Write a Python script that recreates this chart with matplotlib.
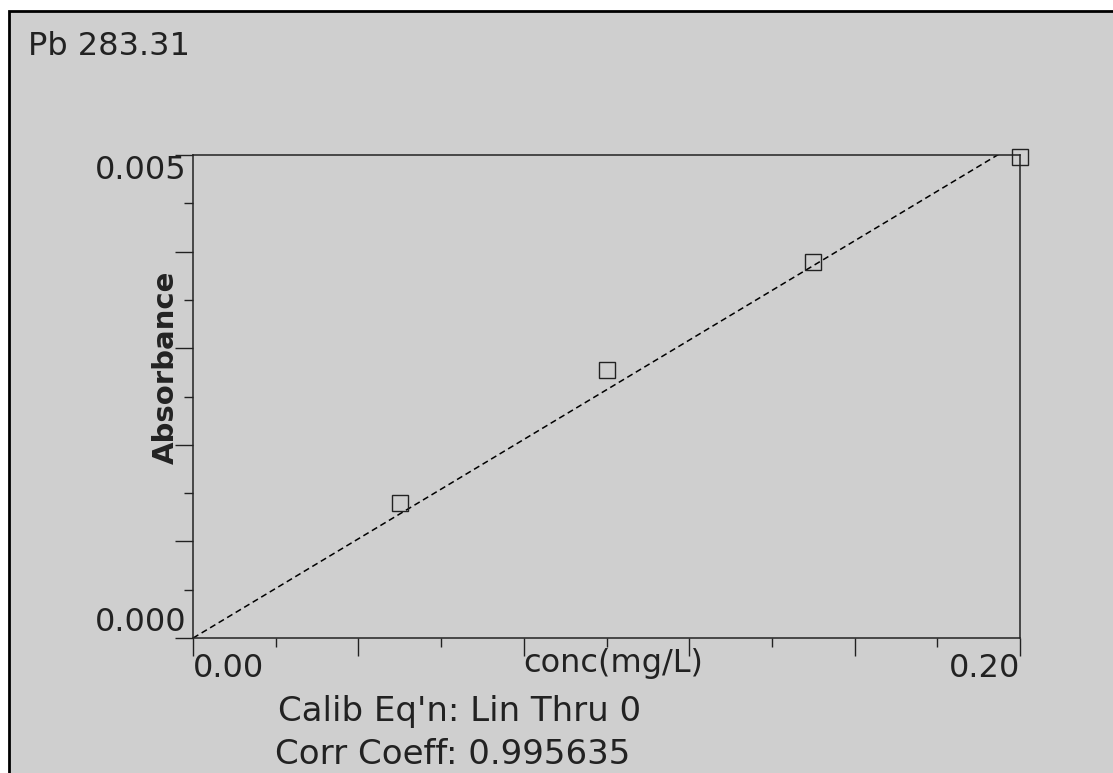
import numpy as np
import matplotlib
matplotlib.use("Agg")
import matplotlib.pyplot as plt
from matplotlib.patches import Rectangle

# calibration standards
conc = [0.05, 0.10, 0.15, 0.20]
absorbance = [0.00140, 0.00278, 0.00389, 0.00498]
x_ticks = [0.0, 0.04, 0.08, 0.12, 0.16, 0.20]
x_labels = ['0.00', '', '', '', '', '0.20']
y_ticks = [0.0, 0.001, 0.002, 0.003, 0.004, 0.005]
y_labels = ['0.000', '', '', '', '', '0.005']

title = 'Pb 283.31'
calib_txt = "Calib Eq'n: Lin Thru 0"
corr_txt = 'Corr Coeff: 0.995635'

plt.rcParams['font.family'] = ['DejaVu Sans']
paper = '#cfcfcf'

fig = plt.figure(figsize=(11.13, 7.73), dpi=100, facecolor='white')
fig.patches.append(Rectangle((0.008, -0.01), 1.0, 0.996, transform=fig.transFigure,
                             facecolor=paper, edgecolor='black', linewidth=2, zorder=-5))

ax = fig.add_axes([0.1735, 0.1746, 0.7429, 0.6248])
ax.set_facecolor('none')

# linear fit forced through zero
x = np.array(conc)
y = np.array(absorbance)
slope = np.sum(x * y) / np.sum(x * x)
xfit = np.array([0.0, 0.2])
ax.plot(xfit, slope * xfit, color='black', lw=1.1, ls=(0, (4, 2.5)))
ax.plot(conc, absorbance, ls='none', marker='s', markersize=12, mfc='none',
        mec='#222222', mew=1.0, clip_on=False, zorder=5)

ax.set_xlim(0, 0.20)
ax.set_ylim(0, 0.005)
for s in ax.spines.values():
    s.set_linewidth(1.1)
    s.set_color('#222222')

ax.set_xticks(x_ticks, labels=x_labels)
ax.set_xticks([0.02, 0.06, 0.10, 0.14, 0.18], minor=True)
ax.set_yticks(y_ticks, labels=y_labels)
ax.set_yticks(np.arange(0.0005, 0.005, 0.001), minor=True)
ax.tick_params(axis='both', which='major', direction='out', length=13, width=1.0,
               labelsize=23, colors='#222222')
ax.tick_params(axis='both', which='minor', direction='out', length=6.5, width=1.0,
               colors='#222222')
ax.tick_params(axis='y', which='major', pad=-8)
ax.tick_params(axis='x', which='major', pad=-2)

xl = ax.get_xticklabels()
xl[0].set_ha('left')
xl[-1].set_ha('right')
yl = ax.get_yticklabels()
yl[0].set_va('bottom')
yl[-1].set_va('top')

ax.set_ylabel('Absorbance', fontsize=21, fontweight='bold', color='#222222')
ax.yaxis.set_label_coords(-0.016, 0.56)
ax.text(0.508, -0.02, 'conc(mg/L)', transform=ax.transAxes, ha='center', va='top',
        fontsize=23, color='#222222')

fig.text(0.025, 0.94, title, fontsize=23, ha='left', va='center', color='#222222')
fig.text(0.413, 0.079, calib_txt, fontsize=24.5, ha='center', va='center', color='#222222')
fig.text(0.407, 0.024, corr_txt, fontsize=24.5, ha='center', va='center', color='#222222')

fig.savefig('out.png', dpi=100, facecolor=fig.get_facecolor())
